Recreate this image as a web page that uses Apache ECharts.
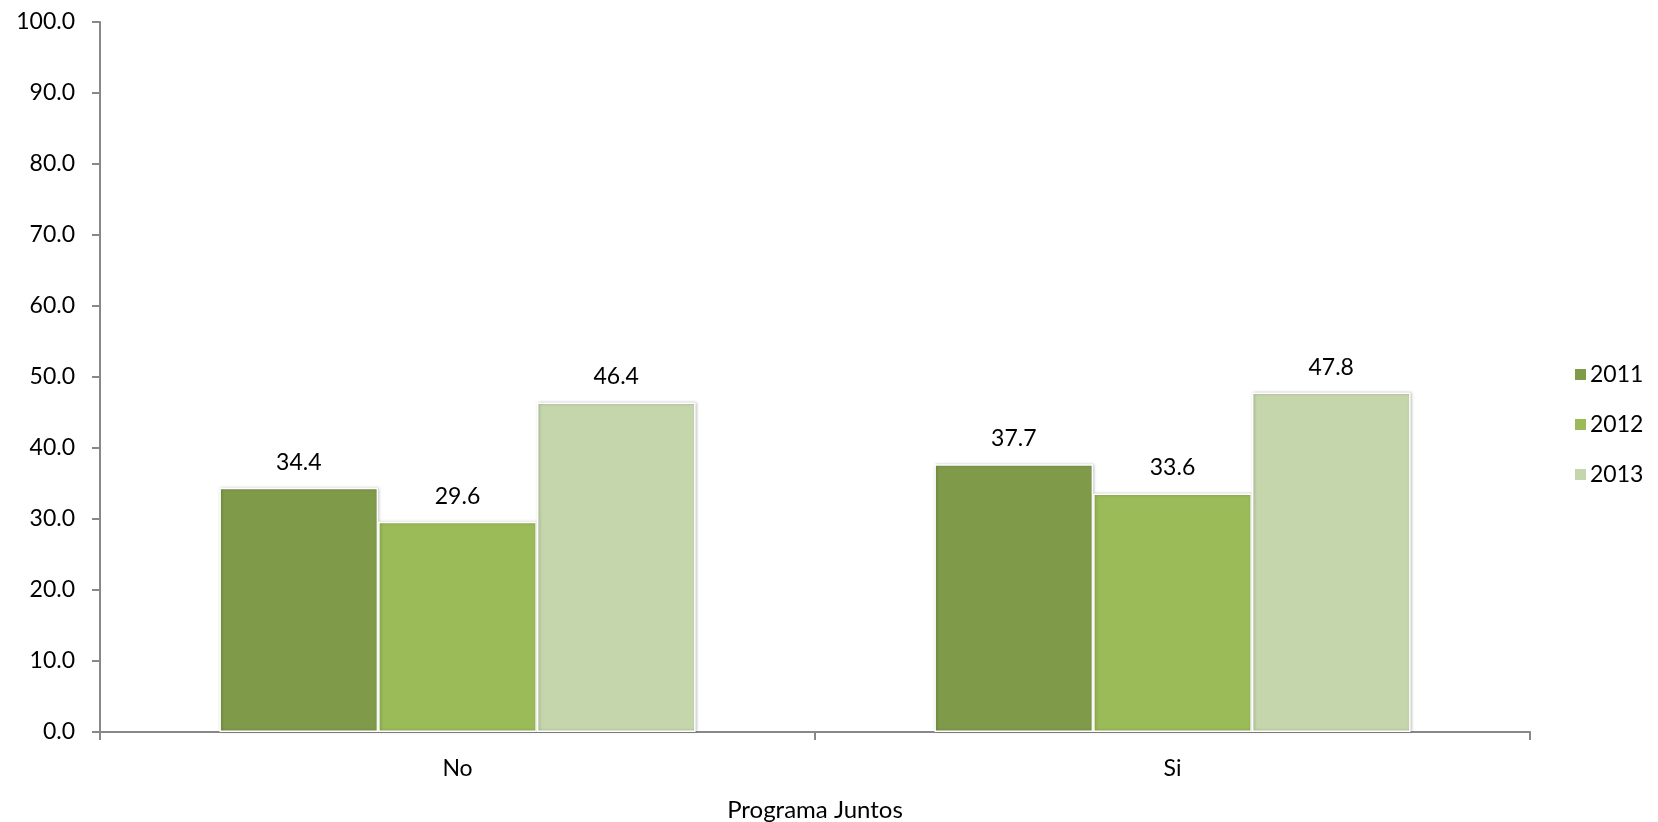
<!DOCTYPE html>
<html>
<head>
<meta charset="utf-8">
<script src="https://cdn.jsdelivr.net/npm/echarts@6/dist/echarts.min.js"></script>
<style>html,body{margin:0;padding:0;background:#fff;}#c{width:1658px;height:822px;}</style>
</head>
<body>
<div id="c"></div>
<script>
const categories = ['No', 'Si'];
const seriesNames = ['2011', '2012', '2013'];
const values2011 = [34.4, 37.7];
const values2012 = [29.6, 33.6];
const values2013 = [46.4, 47.8];
const colors = ['#7F9B4A', '#9BBB59', '#C6D6AC'];
const yTicks = [0, 10, 20, 30, 40, 50, 60, 70, 80, 90, 100];

const FONT = 'Lato';
const allValues = [values2011, values2012, values2013];
const chart = echarts.init(document.getElementById('c'), null, {renderer: 'canvas'});
chart.setOption({
  animation: false,
  backgroundColor: '#fff',
  textStyle: {fontFamily: FONT},
  grid: {left: 100, right: 128, top: 22, bottom: 90, containLabel: false, outerBoundsMode: 'none'},
  legend: {
    orient: 'vertical', left: 1573, top: 363, itemWidth: 13, itemHeight: 13, itemGap: 27,
    icon: 'rect', padding: 0,
    textStyle: {fontFamily: FONT, fontSize: 23, lineHeight: 22, color: '#000', padding: [0,0,0,-2]},
    data: seriesNames
  },
  xAxis: {
    type: 'category', data: categories,
    name: 'Programa Juntos', nameLocation: 'middle', nameGap: 66,
    nameTextStyle: {fontFamily: FONT, fontSize: 24, color: '#000'},
    axisLine: {lineStyle: {color: '#888', width: 2}},
    axisTick: {show: true, length: 8, lineStyle: {color: '#888', width: 2}, alignWithLabel: false},
    axisLabel: {fontFamily: FONT, fontSize: 23, color: '#000', margin: 25}
  },
  yAxis: {
    type: 'value', min: 0, max: 100, interval: 10,
    axisLine: {show: true, lineStyle: {color: '#888', width: 2}},
    axisTick: {show: true, length: 8, lineStyle: {color: '#888', width: 2}},
    splitLine: {show: false},
    axisLabel: {fontFamily: FONT, fontSize: 23, color: '#000', margin: 25,
      formatter: v => yTicks.includes(v) ? v.toFixed(1) : ''}
  },
  series: seriesNames.map((n, i) => ({
    name: n, type: 'bar', data: allValues[i],
    barGap: '0%', barCategoryGap: '33.4%',
    itemStyle: {color: colors[i], borderColor: '#fff', borderWidth: 1.5,
      shadowColor: 'rgba(0,0,0,0.25)', shadowBlur: 3, shadowOffsetX: 1, shadowOffsetY: 0},
    label: {show: true, position: 'top', distance: 14, fontFamily: FONT, fontSize: 23, color: '#000',
      formatter: p => p.value.toFixed(1)}
  }))
});
</script>
</body>
</html>
